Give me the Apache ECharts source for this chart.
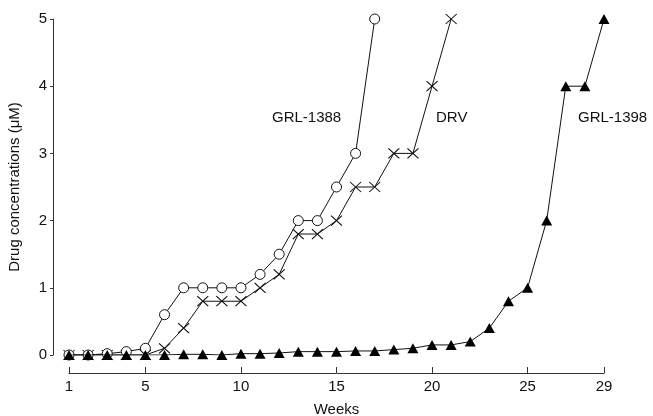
<!DOCTYPE html>
<html>
<head>
<meta charset="utf-8">
<script src="https://cdn.jsdelivr.net/npm/echarts@6/dist/echarts.min.js"></script>
<style>html,body{margin:0;padding:0;background:#fff}#c{width:653px;height:416px}</style>
</head>
<body>
<div id="c"></div>
<script>
var weeks = [1,2,3,4,5,6,7,8,9,10,11,12,13,14,15,16,17,18,19,20,21,22,23,24,25,26,27,28,29];
var grl1388 = [0,0,0.02,0.05,0.1,0.6,1,1,1,1,1.2,1.5,2,2,2.5,3,5];
var drv = [0,0,0,0,0,0.1,0.4,0.8,0.8,0.8,1.0,1.2,1.8,1.8,2.0,2.5,2.5,3,3,4,5];
var grl1398 = [0,0,0,0,0,0,0.01,0.01,0,0.02,0.02,0.03,0.05,0.05,0.05,0.06,0.06,0.08,0.1,0.15,0.15,0.2,0.4,0.8,1.0,2,4,4,5];
var xTickLabels = [1,5,10,15,20,25,29];
var yTicks = [0,1,2,3,4,5];
var seriesNames = ['GRL-1388','DRV','GRL-1398'];

function pairs(arr){ return arr.map(function(v,i){ return [weeks[i], v]; }); }

var font = 'Liberation Sans, Arial, Helvetica, sans-serif';
var chart = echarts.init(document.getElementById('c'));
chart.setOption({
  animation: false,
  grid: [
    {left: 53, right: 49, top: 19, bottom: 61, outerBoundsMode: 'none', containLabel: false},
    {left: 69, right: 49, top: 19, bottom: 61, outerBoundsMode: 'none', containLabel: false}
  ],
  xAxis: [
    {gridIndex: 0, type: 'value', min: 0, max: 29, show: false},
    {gridIndex: 1, type: 'value', min: 1, max: 29, offset: 18,
     name: 'Weeks', nameLocation: 'middle', nameGap: 29,
     nameTextStyle: {color: '#111', fontFamily: font, fontSize: 15},
     splitLine: {show: false},
     axisLine: {show: true, onZero: false, lineStyle: {color: '#333', width: 1}},
     axisTick: {show: true, inside: true, length: 6, lineStyle: {color: '#333'}, customValues: xTickLabels},
     axisLabel: {color: '#111', fontFamily: font, fontSize: 15, margin: 6, customValues: xTickLabels}
    }
  ],
  yAxis: [
    {gridIndex: 0, type: 'value', min: 0, max: 5, interval: 1,
     name: 'Drug concentrations (\u03bcM)', nameLocation: 'middle', nameGap: 31,
     nameTextStyle: {color: '#111', fontFamily: font, fontSize: 15},
     splitLine: {show: false},
     axisLine: {show: true, onZero: false, lineStyle: {color: '#333', width: 1}},
     axisTick: {show: true, length: 3, lineStyle: {color: '#333'}},
     axisLabel: {color: '#111', fontFamily: font, fontSize: 15, margin: 6}
    },
    {gridIndex: 1, type: 'value', min: 0, max: 5, show: false}
  ],
  series: [
    {name: seriesNames[0], type: 'line', xAxisIndex: 1, yAxisIndex: 1, data: pairs(grl1388),
     symbol: 'circle', symbolSize: 10,
     lineStyle: {color: '#111', width: 1},
     itemStyle: {color: '#fff', borderColor: '#111', borderWidth: 1}, z: 3},
    {name: seriesNames[1], type: 'line', xAxisIndex: 1, yAxisIndex: 1, data: pairs(drv),
     symbol: 'path://M0,0L10,10M10,0L0,10', symbolSize: [11, 10],
     lineStyle: {color: '#111', width: 1},
     itemStyle: {color: 'none', borderColor: '#111', borderWidth: 1.1}, z: 2},
    {name: seriesNames[2], type: 'line', xAxisIndex: 1, yAxisIndex: 1, data: pairs(grl1398),
     symbol: 'triangle', symbolSize: [11, 10],
     lineStyle: {color: '#111', width: 1},
     itemStyle: {color: '#000', borderColor: '#000', borderWidth: 0}, z: 4}
  ],
  graphic: [
    {type: 'text', left: 272, top: 110, style: {text: seriesNames[0], fill: '#111', font: '15px ' + font}},
    {type: 'text', left: 436, top: 110, style: {text: seriesNames[1], fill: '#111', font: '15px ' + font}},
    {type: 'text', left: 578, top: 110, style: {text: seriesNames[2], fill: '#111', font: '15px ' + font}}
  ]
});
</script>
</body>
</html>
